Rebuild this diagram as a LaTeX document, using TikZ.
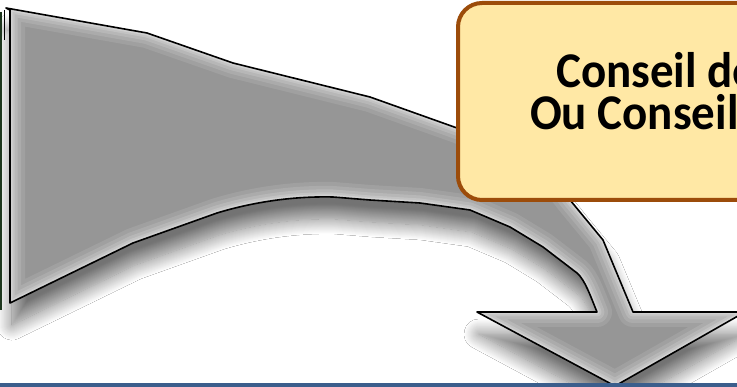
\documentclass[tikz,border=0pt]{standalone}
\usepackage{fontspec}
\setmainfont{Carlito}
\newfontfamily\boxfont{Carlito}[FakeStretch=0.94]
\usetikzlibrary{shadows.blur}
\definecolor{boxfill}{RGB}{255,232,165}
\definecolor{boxline}{RGB}{156,76,10}
\definecolor{barblue}{RGB}{59,94,140}
\definecolor{arrowgray}{RGB}{150,150,150}
\definecolor{edgegreen}{RGB}{30,55,30}
\tikzset{
  callout/.style={draw=boxline, line width=4pt, fill=boxfill, rounded corners=24pt},
  bigtext/.style={font=\boxfont\bfseries\fontsize{50}{41}\selectfont, inner sep=0pt, anchor=base west},
  outline/.style={draw=black, line width=1.6pt, line join=round},
}
\begin{document}
\begin{tikzpicture}[x=1pt,y=-1pt]
\useasboundingbox (0,0) rectangle (737,387);
\clip (0,0) rectangle (737,387);
\fill[white] (0,0) rectangle (737,387);
\def\arrowpath{(6,8) -- (147,33) -- (233,63) -- (370,97) -- (457,128)
  .. controls (500,145) and (545,165) .. (570,200)
  -- (603,240) -- (633,312) -- (745,312) -- (615,386) -- (477,312) -- (597,312)
  .. controls (590,295) and (585,280) .. (577,273)
  -- (543,247) -- (510,227) -- (470,210) -- (420,203) -- (370,200) -- (333,197)
  .. controls (290,196) and (250,203) .. (217,213)
  -- (133,243) -- (10,303) -- (10,10) -- cycle}
% shadow
\fill[arrowgray, blur shadow={shadow xshift=2pt, shadow yshift=-22pt, shadow blur radius=15pt, shadow blur steps=16, shadow opacity=55}] \arrowpath;
% inner glow
\begin{scope}
  \clip \arrowpath;
  \foreach \w/\o in {30/0.10,22/0.12,15/0.15,9/0.18,5/0.22}{
    \draw[white, line width=\w pt, opacity=\o, line join=round] \arrowpath;
  }
\end{scope}
\draw[outline] \arrowpath;
\draw[black, line width=1pt] (4,10) -- (4,40);
\draw[edgegreen, line width=2pt] (1,12) -- (1,310);
% callout box
\draw[callout] (458,3) rectangle (800,200);
\node[bigtext] (l1) at (556,88) {Conseil de};
\node[bigtext] (l2) at (530,130) {Ou Conseil};
% bottom bar
\fill[barblue] (0,383) rectangle (737,387);
\end{tikzpicture}
\end{document}
